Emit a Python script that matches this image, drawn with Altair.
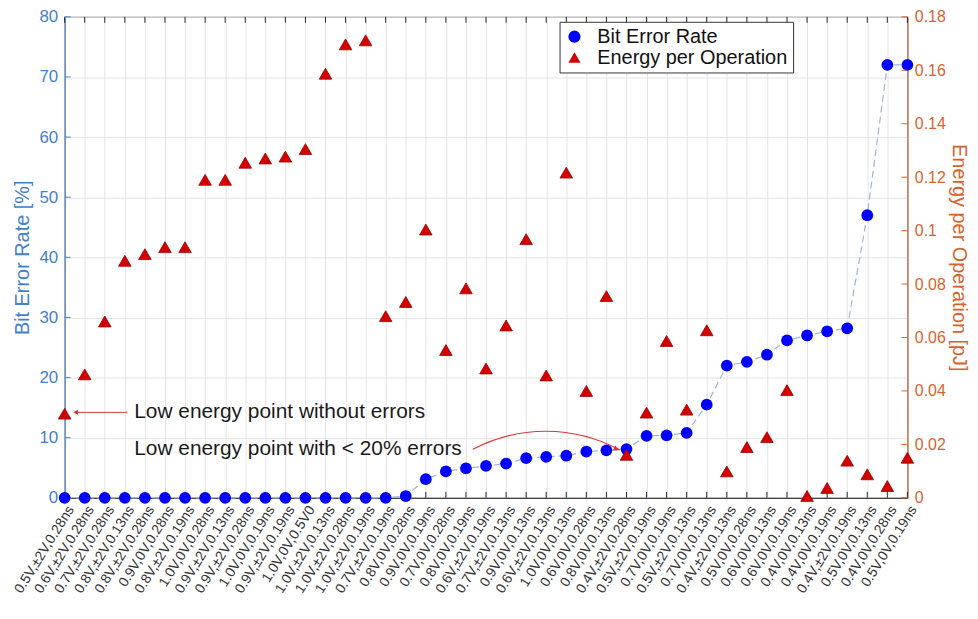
import altair as alt
import pandas as pd

# ---------------- data ----------------
categories = [
    "0.5V,±2V,0.28ns", "0.6V,±2V,0.28ns", "0.7V,±2V,0.28ns", "0.8V,±2V,0.13ns",
    "0.8V,±2V,0.28ns", "0.9V,0V,0.28ns", "0.8V,±2V,0.19ns", "1.0V,0V,0.28ns",
    "0.9V,±2V,0.13ns", "0.9V,±2V,0.28ns", "1.0V,0V,0.19ns", "0.9V,±2V,0.19ns",
    "1.0V,0V,0.5V0", "1.0V,±2V,0.13ns", "1.0V,±2V,0.28ns", "1.0V,±2V,0.19ns",
    "0.7V,±2V,0.19ns", "0.8V,0V,0.28ns", "0.9V,0V,0.19ns", "0.7V,0V,0.28ns",
    "0.8V,0V,0.19ns", "0.6V,±2V,0.19ns", "0.7V,±2V,0.13ns", "0.9V,0V,0.13ns",
    "0.6V,±2V,0.13ns", "1.0V,0V,0.13ns", "0.6V,0V,0.28ns", "0.8V,0V,0.13ns",
    "0.4V,±2V,0.28ns", "0.5V,±2V,0.19ns", "0.7V,0V,0.19ns", "0.5V,±2V,0.13ns",
    "0.7V,0V,0.13ns", "0.4V,±2V,0.13ns", "0.5V,0V,0.28ns", "0.6V,0V,0.13ns",
    "0.6V,0V,0.19ns", "0.4V,0V,0.13ns", "0.4V,0V,0.19ns", "0.4V,±2V,0.19ns",
    "0.5V,0V,0.13ns", "0.4V,0V,0.28ns", "0.5V,0V,0.19ns",
]

bit_error_rate = [
    0, 0, 0, 0, 0, 0, 0, 0, 0, 0, 0, 0, 0, 0, 0, 0, 0,
    0.3, 3.1, 4.4, 4.9, 5.3, 5.7, 6.6, 6.8, 7.0, 7.7, 7.9, 8.1,
    10.3, 10.4, 10.8, 15.5, 22.0, 22.6, 23.8, 26.2, 27.0, 27.7, 28.2,
    47.0, 72.0, 72.0,
]

energy_per_op = [
    0.0315, 0.0462, 0.066, 0.0887, 0.0912, 0.0938, 0.0938, 0.119, 0.119,
    0.1254, 0.127, 0.1277, 0.1305, 0.1587, 0.1697, 0.1712,
    0.068, 0.0733, 0.1004, 0.0553, 0.0784, 0.0484, 0.0645, 0.0968, 0.0458,
    0.1217, 0.040, 0.0755, 0.0161,
    0.0319, 0.0587, 0.033, 0.0627, 0.0099, 0.019, 0.0227, 0.0403, 0.0007,
    0.0037, 0.0139, 0.0088, 0.0044, 0.015,
]

ber_ticks = [0, 10, 20, 30, 40, 50, 60, 70, 80]
energy_ticks = [0, 0.02, 0.04, 0.06, 0.08, 0.1, 0.12, 0.14, 0.16, 0.18]

series_names = ["Bit Error Rate", "Energy per Operation"]
annotation_texts = ["Low energy point without errors", "Low energy point with < 20% errors"]

# ---------------- styling ----------------
W, H = 848, 484
FONT = "Liberation Sans"
BLUE_AX = "#4381c9"
ORANGE_AX = "#d9622b"
GRID = "#e4e4e4"
ARROW = "#d9383a"

df = pd.DataFrame({"cat": categories, "ber": bit_error_rate, "energy": energy_per_op})
df["s_ber"] = series_names[0]
df["s_en"] = series_names[1]

color_scale = alt.Scale(domain=series_names, range=["#0000ff", "#d40000"])
shape_scale = alt.Scale(domain=series_names, range=["circle", "triangle-up"])
legend = alt.Legend(
    title=None, orient="none", legendX=498, legendY=5,
    labelFont=FONT, labelFontSize=20, labelColor="#111", labelLimit=400,
    symbolSize=150, symbolStrokeWidth=0, padding=5, rowPadding=1,
    labelOffset=13, strokeColor="#333", fillColor="white", cornerRadius=0,
)

x_enc = alt.X(
    "cat:N", sort=categories,
    scale=alt.Scale(type="point", padding=0),
    axis=alt.Axis(
        title=None, labelAngle=-58, labelAlign="right", labelBaseline="middle",
        labelFontSize=14, labelColor="#333", labelPadding=9, labelOffset=6,
        ticks=False, domainColor="#262626", grid=True,
        gridColor=GRID, labelOverlap=False, labelFont=FONT,
    ),
)

y_left = alt.Y(
    "ber:Q",
    scale=alt.Scale(domain=[0, 80], nice=False),
    axis=alt.Axis(
        title="Bit Error Rate [%]", values=ber_ticks, format="d", ticks=False,
        grid=True, gridColor=GRID, domainColor=BLUE_AX, labelColor=BLUE_AX,
        titleColor=BLUE_AX, labelFontSize=17, titleFontSize=20,
        titleFontWeight="normal", labelPadding=7, titlePadding=6,
        labelFont=FONT, titleFont=FONT,
    ),
)

y_right = alt.Y(
    "energy:Q",
    scale=alt.Scale(domain=[0, 0.18], nice=False),
    axis=alt.Axis(
        orient="right", title="Energy per Operation [pJ]", values=energy_ticks,
        format="~g", ticks=False, grid=False, domainColor=ORANGE_AX,
        labelColor=ORANGE_AX, titleColor=ORANGE_AX, labelFontSize=16,
        titleFontSize=20, titleFontWeight="normal", labelPadding=7,
        titlePadding=3, labelFont=FONT, titleFont=FONT,
    ),
)

base = alt.Chart(df)

# inward ticks on top and bottom frame
top_ticks = base.mark_rule(color="#262626", strokeWidth=1).encode(
    x=x_enc, y=alt.value(0), y2=alt.value(6))
bottom_ticks = base.mark_rule(color="#262626", strokeWidth=1).encode(
    x=x_enc, y=alt.value(H - 6), y2=alt.value(H))

# left series
left_tick_df = pd.DataFrame({"ber": ber_ticks})
left_ticks = alt.Chart(left_tick_df).mark_rule(color=BLUE_AX).encode(
    y=y_left, x=alt.value(0), x2=alt.value(6))
ber_line = base.mark_line(color="#9db4e4", strokeWidth=1.2, strokeDash=[7, 4]).encode(
    x=x_enc, y=y_left)
ber_points = base.mark_point(filled=True, opacity=1, size=140, strokeWidth=0).encode(
    x=x_enc, y=y_left,
    color=alt.Color("s_ber:N", scale=color_scale, legend=legend),
    shape=alt.Shape("s_ber:N", scale=shape_scale, legend=legend),
)
left_layer = alt.layer(left_ticks, ber_line, ber_points)

# right series
right_tick_df = pd.DataFrame({"energy": energy_ticks})
right_ticks = alt.Chart(right_tick_df).mark_rule(color=ORANGE_AX).encode(
    y=y_right, x=alt.value(W - 6), x2=alt.value(W))
en_points = base.mark_point(filled=True, opacity=1, size=160, stroke="#9a0000",
                            strokeWidth=0.8).encode(
    x=x_enc, y=y_right,
    color=alt.Color("s_en:N", scale=color_scale, legend=legend),
    shape=alt.Shape("s_en:N", scale=shape_scale, legend=legend),
)
right_layer = alt.layer(right_ticks, en_points)

# annotations
ann1 = alt.Chart(pd.DataFrame({"t": [annotation_texts[0]]})).mark_text(
    align="left", baseline="middle", fontSize=21, font=FONT, color="#1a1a1a"
).encode(x=alt.value(70), y=alt.value(398), text="t:N")
ann2 = alt.Chart(pd.DataFrame({"t": [annotation_texts[1]]})).mark_text(
    align="left", baseline="middle", fontSize=21, font=FONT, color="#1a1a1a"
).encode(x=alt.value(70), y=alt.value(435), text="t:N")

one = pd.DataFrame({"k": [1]})
arrow1_line = alt.Chart(one).mark_rule(color=ARROW, strokeWidth=1).encode(
    x=alt.value(12), x2=alt.value(63), y=alt.value(398))
arrow1_head = alt.Chart(one).mark_point(
    shape="triangle-left", filled=True, size=30, color=ARROW, opacity=1
).encode(x=alt.value(11), y=alt.value(398))

arc2 = alt.Chart(one).mark_arc(
    radius=157, radius2=157, theta=5.798, theta2=6.777,
    fillOpacity=0, stroke=ARROW, strokeWidth=1.2,
).encode(x=alt.value(484), y=alt.value(574))
arrow2_head = alt.Chart(one).mark_point(
    shape="triangle-right", filled=True, size=35, color=ARROW, opacity=1, angle=28
).encode(x=alt.value(555), y=alt.value(435))

chart = alt.layer(
    top_ticks, bottom_ticks, left_layer, right_layer,
    arrow1_line, arrow1_head, arc2, arrow2_head, ann1, ann2,
).resolve_scale(
    y="independent"
).properties(
    width=W, height=H,
    autosize=alt.AutoSizeParams(type="none"),
    padding={"left": 57, "top": 7, "right": 63, "bottom": 112},
    background="white",
).configure_view(
    stroke="#262626", strokeWidth=1
)

chart.save("out.html", embed_options={"renderer": "svg", "actions": False})
